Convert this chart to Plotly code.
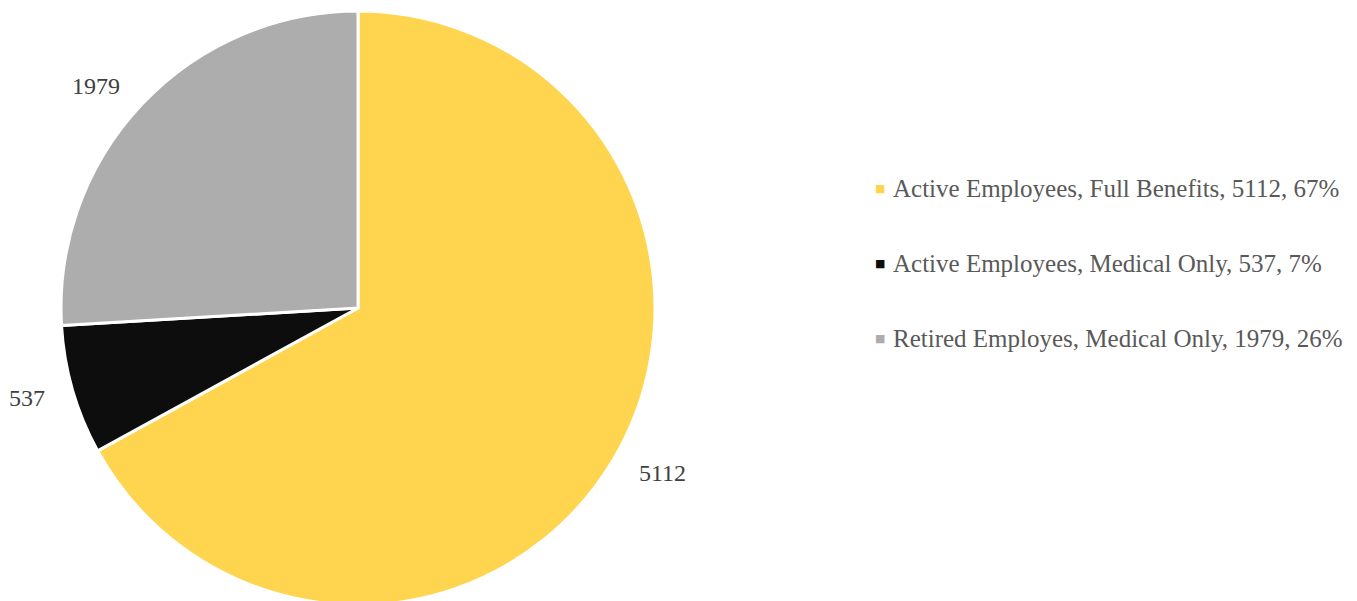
import math
import plotly.graph_objects as go

categories = [
    "Active Employees, Full Benefits",
    "Active Employees, Medical Only",
    "Retired Employes, Medical Only",
]
headcount = [5112, 537, 1979]
colors = ["#FFD54F", "#0D0D0D", "#ADADAD"]

FONT = "Liberation Serif"
W, H = 1357, 612          # canvas is a little taller than the window; the pie runs off the bottom
CX, CY, R = 358, 308, 297  # pie centre / radius in pixels from top-left
LABEL_GAP = 27             # distance of the data labels beyond the rim

total = sum(headcount)
shares = [round(v / total * 100) for v in headcount]

fig = go.Figure(
    go.Pie(
        labels=categories,
        values=headcount,
        sort=False,
        direction="clockwise",
        rotation=0,
        marker=dict(colors=colors, line=dict(color="#FFFFFF", width=3)),
        textinfo="none",
        showlegend=False,
        hoverinfo="label+value+percent",
        domain=dict(x=[(CX - R) / W, (CX + R) / W],
                    y=[(H - CY - R) / H, (H - CY + R) / H]),
    )
)

# value labels at each slice's mid-angle (clockwise from 12 o'clock)
cum = 0
for v in headcount:
    mid = (cum + v / 2) / total * 2 * math.pi
    cum += v
    dx, dy = math.sin(mid), -math.cos(mid)
    px = CX + (R + LABEL_GAP) * dx
    py = CY + (R + LABEL_GAP) * dy
    fig.add_annotation(
        x=px / W, y=1 - py / H, xref="paper", yref="paper",
        text=str(v), showarrow=False,
        xanchor="right" if dx < 0 else "left", yanchor="middle",
        font=dict(family=FONT, size=24, color="#404040"),
    )

# legend drawn as text rows with coloured square keys
legend_top = 188
legend_step = 75
for i, (name, v, p, c) in enumerate(zip(categories, headcount, shares, colors)):
    yc = 1 - (legend_top + i * legend_step) / H
    fig.add_annotation(
        x=880 / W, y=yc, xref="paper", yref="paper",
        text="■", showarrow=False, xanchor="center", yanchor="middle",
        font=dict(family="DejaVu Sans", size=11, color=c),
    )
    fig.add_annotation(
        x=891 / W, y=yc, xref="paper", yref="paper",
        text=f"{name}, {v}, {p}%", showarrow=False,
        xanchor="left", yanchor="middle",
        font=dict(family=FONT, size=25, color="#595959"),
    )

fig.update_layout(
    width=W, height=H,
    margin=dict(l=0, r=0, t=0, b=0),
    paper_bgcolor="white", plot_bgcolor="white",
)

fig.write_html(
    "out.html",
    post_script="document.documentElement.style.overflow='hidden';"
                "document.body.style.overflow='hidden';document.body.style.margin='0';",
)
